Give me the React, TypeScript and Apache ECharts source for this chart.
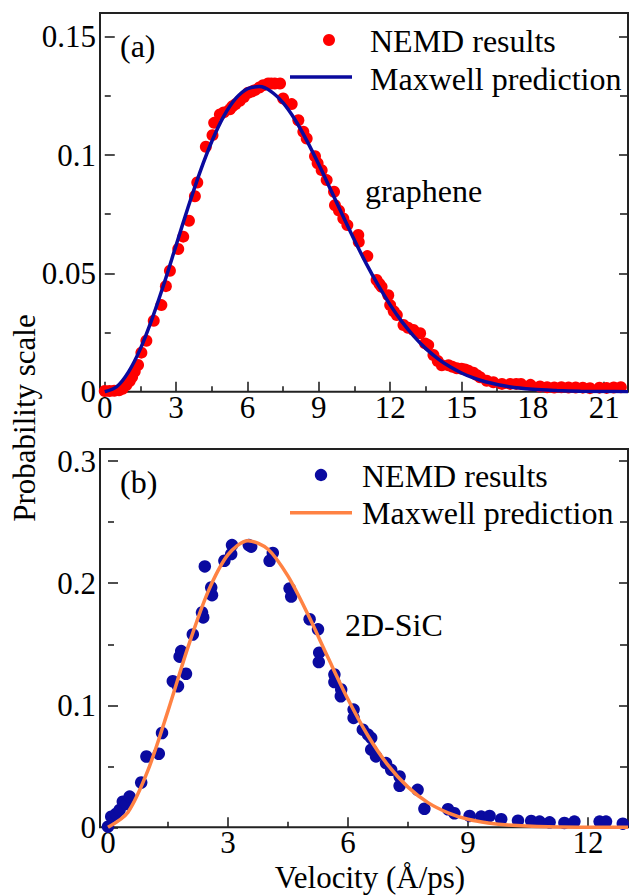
import React, { useEffect, useRef } from "react";
import * as echarts from "echarts";

// ---------- Data ----------
// Panel (a): graphene
const grapheneV = [0.0,0.2,0.4,0.6,0.75,0.91,1.05,1.15,1.26,1.4,1.54,1.75,2.06,2.38,2.57,2.74,3.09,3.3,3.54,3.79,3.89,4.25,4.53,4.6,4.84,5.0,5.26,5.37,5.5,5.68,5.85,6.03,6.18,6.31,6.5,6.66,6.87,7.0,7.15,7.37,7.5,7.86,8.14,8.35,8.49,8.84,8.95,9.12,9.33,9.64,9.68,9.85,10.03,10.2,10.66,10.68,11.04,11.43,11.55,11.64,11.92,12.0,12.15,12.28,12.56,12.75,12.98,13.26,13.47,13.6,13.82,14.0,14.17,14.45,14.62,14.8,15.0,15.15,15.3,15.5,15.65,15.78,16.06,16.34,16.7,17.05,17.3,17.5,17.9,18.3,18.6,18.9,19.2,19.5,19.8,20.1,20.4,20.8,21.1,21.4,21.7];
const grapheneP = [0.0003,0.0003,0.0004,0.0006,0.0012,0.0028,0.0045,0.0062,0.0085,0.0113,0.0165,0.0215,0.0300,0.0366,0.0446,0.0511,0.0603,0.0655,0.0722,0.0826,0.0884,0.1035,0.1084,0.1136,0.1171,0.1180,0.1193,0.1206,0.1215,0.1229,0.1245,0.1263,0.1268,0.1274,0.1285,0.1295,0.1302,0.1302,0.1302,0.1302,0.1239,0.1215,0.1147,0.1098,0.1070,0.0995,0.0965,0.0936,0.0894,0.0845,0.0788,0.0765,0.0732,0.0704,0.0662,0.0633,0.0573,0.0472,0.0455,0.0443,0.0408,0.0366,0.0340,0.0324,0.0282,0.0270,0.0261,0.0247,0.0204,0.0197,0.0155,0.0130,0.0112,0.0112,0.0105,0.0099,0.0097,0.0094,0.0088,0.0080,0.0070,0.0061,0.0046,0.0040,0.0033,0.0033,0.0033,0.0033,0.0029,0.0022,0.0019,0.0018,0.0019,0.0018,0.0018,0.0017,0.0015,0.0017,0.0016,0.0018,0.0019];
const grapheneFitV = [0,0.5,1,1.5,2,2.5,3,3.5,4,4.5,5,5.5,6,6.5,7,7.5,8,8.5,9,9.5,10,10.5,11,11.5,12,12.5,13,13.5,14,14.5,15,15.5,16,17,18,19,20,21,22];
const grapheneFitP = [0,0.0021,0.0084,0.0182,0.0311,0.0459,0.0619,0.0778,0.0927,0.1057,0.1163,0.1238,0.1280,0.1289,0.1268,0.1220,0.1149,0.1060,0.0960,0.0853,0.0745,0.0640,0.0540,0.0449,0.0367,0.0295,0.0234,0.0182,0.0140,0.0106,0.0079,0.0058,0.0042,0.0021,0.0010,0.0005,0.0002,0.0001,0.00003];

// Panel (b): 2D-SiC
const sicV = [0.0,0.08,0.2,0.29,0.37,0.45,0.54,0.83,0.96,1.27,1.35,1.62,1.75,1.79,1.83,1.95,2.12,2.35,2.38,2.42,2.58,2.6,2.91,3.08,3.1,3.52,3.58,4.04,4.12,4.54,4.58,5.04,5.25,5.28,5.27,5.66,5.66,5.83,5.82,6.14,6.14,6.37,6.5,6.58,6.58,6.7,6.95,7.08,7.29,7.29,7.74,7.91,8.5,8.66,9.04,9.33,9.54,9.83,10.25,10.58,10.79,11.04,11.41,11.66,12.29,12.45,12.87];
const sicP = [0.0005,0.0087,0.011,0.0142,0.021,0.019,0.0252,0.0367,0.058,0.0603,0.0773,0.1197,0.1156,0.1398,0.1444,0.1258,0.158,0.176,0.172,0.2138,0.1965,0.1902,0.2184,0.2239,0.2313,0.2313,0.23,0.2184,0.2248,0.1957,0.1891,0.1705,0.1622,0.1431,0.1354,0.1252,0.119,0.1129,0.1074,0.0965,0.0896,0.08,0.076,0.0732,0.0636,0.0581,0.0526,0.0471,0.0416,0.034,0.0307,0.0152,0.0148,0.0115,0.0093,0.0088,0.0093,0.0066,0.0054,0.0052,0.0047,0.0041,0.0036,0.0047,0.0047,0.0047,0.003];
const sicFitV = [0,0.5,1,1.5,2,2.5,3,3.5,4,4.5,5,5.5,6,6.5,7,7.5,8,8.5,9,9.5,10,11,12,13];
const sicFitP = [0,0.0124,0.0468,0.0954,0.1476,0.1929,0.2234,0.2349,0.2279,0.2058,0.1743,0.1391,0.1049,0.0750,0.0509,0.0329,0.0202,0.0119,0.0066,0.0036,0.0018,0.0004,0.0001,0.00001];

// Ticks
const xTicksA = [0, 3, 6, 9, 12, 15, 18, 21];
const xMinorA = [1.5, 4.5, 7.5, 10.5, 13.5, 16.5, 19.5];
const yTicksA = [0, 0.05, 0.1, 0.15];
const yMinorA = [0.025, 0.075, 0.125];
const xTicksB = [0, 3, 6, 9, 12];
const xMinorB = [1.5, 4.5, 7.5, 10.5];
const yTicksB = [0, 0.1, 0.2, 0.3];
const yMinorB = [0.05, 0.15, 0.25];

// Text
const legendDots = "NEMD results";
const legendLine = "Maxwell prediction";
const labelA = "(a)";
const labelB = "(b)";
const materialA = "graphene";
const materialB = "2D-SiC";
const xTitle = "Velocity (Å/ps)";
const yTitle = "Probability scale";

const RED = "#ff0000";
const NAVY = "#0a0a9e";
const NAVY_DOT = "#0a0aa0";
const ORANGE = "#ff8243";
const FONT = "'Liberation Serif', 'Times New Roman', 'DejaVu Serif', serif";
const AXIS = "#222";

function pairs(v: number[], p: number[]) {
  return v.map((x, i) => [x, p[i]]);
}

function xAxes(gridIndex: number, min: number, max: number, major: number[], minor: number[]) {
  return [
    {
      type: "value", gridIndex, min, max, position: "bottom",
      axisLine: { show: false },
      splitLine: { show: false },
      axisTick: { show: true, inside: true, length: 10, customValues: major, lineStyle: { color: AXIS, width: 1.6 } },
      axisLabel: { show: true, customValues: major, margin: 0, color: "#000", fontFamily: FONT, fontSize: 31 },
    },
    {
      type: "value", gridIndex, min, max, position: "bottom",
      axisLine: { show: false },
      splitLine: { show: false },
      axisTick: { show: true, inside: true, length: 5.5, customValues: minor, lineStyle: { color: AXIS, width: 1.6 } },
      axisLabel: { show: false },
    },
  ];
}

function yAxes(gridIndex: number, min: number, max: number, major: number[], minor: number[]) {
  const base = { type: "value", gridIndex, min, max, axisLine: { show: false }, splitLine: { show: false } };
  return [
    {
      ...base, position: "left",
      axisTick: { show: true, inside: true, length: 10, customValues: major, lineStyle: { color: AXIS, width: 1.6 } },
      axisLabel: { show: true, customValues: major, margin: 4, color: "#000", fontFamily: FONT, fontSize: 31 },
    },
    {
      ...base, position: "left",
      axisTick: { show: true, inside: true, length: 6, customValues: minor, lineStyle: { color: AXIS, width: 1.6 } },
      axisLabel: { show: false },
    },
    {
      ...base, position: "right",
      axisTick: { show: true, inside: true, length: 9, customValues: major, lineStyle: { color: AXIS, width: 1.6 } },
      axisLabel: { show: false },
    },
    {
      ...base, position: "right",
      axisTick: { show: true, inside: true, length: 8, customValues: minor, lineStyle: { color: AXIS, width: 1.6 } },
      axisLabel: { show: false },
    },
  ];
}

function txt(text: string, x: number, y: number, size = 32, extra: any = {}) {
  const { lineHeight, align, ...rest } = extra;
  const style: any = { text, fill: "#000", fontFamily: FONT, fontSize: size, align: align || "left", verticalAlign: "middle" };
  if (lineHeight) style.lineHeight = lineHeight;
  return { type: "text", x, y, ...rest, style, z: 10 };
}

export default function App() {
  const ref = useRef<HTMLDivElement>(null);
  useEffect(() => {
    if (!ref.current) return;
    const chart = echarts.init(ref.current, null, { renderer: "svg" });
    const gridStyle = { show: true, borderColor: "#222", borderWidth: 2, backgroundColor: "transparent", containLabel: false };
    const option: any = {
      animation: false,
      backgroundColor: "#fff",
      textStyle: { fontFamily: FONT },
      grid: [
        { ...gridStyle, left: 100, top: 13, width: 528, height: 378.7 },
        { ...gridStyle, left: 100, top: 449, width: 528, height: 378.3 },
      ],
      xAxis: [
        ...xAxes(0, -0.2, 22, xTicksA, xMinorA),
        ...xAxes(1, -0.2, 13, xTicksB, xMinorB),
      ],
      yAxis: [
        ...yAxes(0, 0, 0.16, yTicksA, yMinorA),
        ...yAxes(1, 0, 0.31, yTicksB, yMinorB),
      ],
      series: [
        {
          type: "scatter", name: legendDots, xAxisIndex: 0, yAxisIndex: 0,
          data: pairs(grapheneV, grapheneP), symbol: "circle", symbolSize: 12,
          itemStyle: { color: RED, opacity: 1 }, z: 2, clip: false,
        },
        {
          type: "line", name: legendLine, xAxisIndex: 0, yAxisIndex: 0,
          data: pairs(grapheneFitV, grapheneFitP), symbol: "none", showSymbol: false, smooth: 0.3,
          lineStyle: { color: NAVY, width: 3.5 }, itemStyle: { color: NAVY }, z: 3,
        },
        {
          type: "scatter", name: legendDots, xAxisIndex: 2, yAxisIndex: 4,
          data: pairs(sicV, sicP), symbol: "circle", symbolSize: 12.5,
          itemStyle: { color: NAVY_DOT, opacity: 1 }, z: 2, clip: false,
        },
        {
          type: "line", name: legendLine, xAxisIndex: 2, yAxisIndex: 4,
          data: pairs(sicFitV, sicFitP), symbol: "none", showSymbol: false, smooth: 0.3,
          lineStyle: { color: ORANGE, width: 3.5 }, itemStyle: { color: ORANGE }, z: 3,
        },
      ],
      graphic: [
        // panel (a) legend and labels
        { type: "circle", shape: { cx: 329, cy: 40, r: 6 }, style: { fill: RED }, z: 10 },
        { type: "line", shape: { x1: 290, y1: 77, x2: 352, y2: 77 }, style: { stroke: NAVY, lineWidth: 3.5 }, z: 10 },
        txt(legendDots, 370, 41),
        txt(legendLine, 370, 79),
        txt(labelA, 120, 46),
        txt(materialA, 365, 191),
        // panel (b)
        { type: "circle", shape: { cx: 321, cy: 475, r: 6.2 }, style: { fill: NAVY_DOT }, z: 10 },
        { type: "line", shape: { x1: 290, y1: 512.7, x2: 352, y2: 512.7 }, style: { stroke: ORANGE, lineWidth: 3.5 }, z: 10 },
        txt(legendDots, 362, 476),
        txt(legendLine, 362, 513),
        txt(labelB, 120, 482),
        txt(materialB, 345, 624.5),
        // axis titles
        txt(xTitle, 370, 877, 31, { align: "center", lineHeight: 26 }),
        txt(yTitle, 24.5, 418, 31, { align: "center", rotation: Math.PI / 2 }),
      ],
    };
    chart.setOption(option);
    return () => chart.dispose();
  }, []);
  return <div ref={ref} style={{ position: "absolute", left: 0, top: 0, width: 630, height: 896 }} />;
}
